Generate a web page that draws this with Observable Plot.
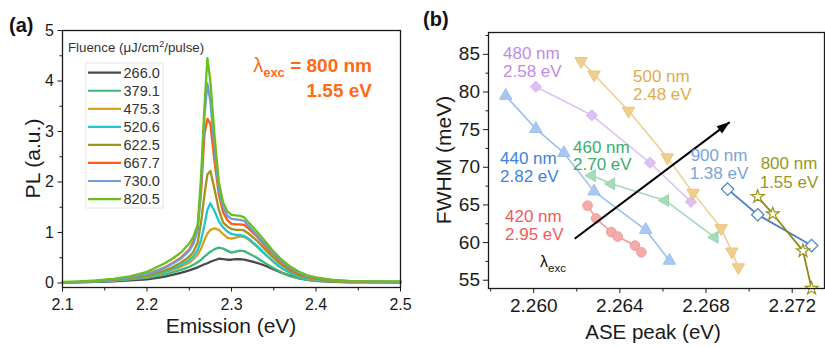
<!DOCTYPE html>
<html><head><meta charset="utf-8">
<script src="https://cdn.jsdelivr.net/npm/d3@7"></script>
<script src="https://cdn.jsdelivr.net/npm/@observablehq/plot@0.6"></script>
<style>
body{margin:0;background:#fff;font-family:"Liberation Sans",Arial,sans-serif}
#wrap{position:relative;width:825px;height:347px;overflow:hidden;background:#fff}
#pa{position:absolute;left:0;top:0}
#pb{position:absolute;left:415px;top:0}
#ov{position:absolute;left:0;top:0;pointer-events:none}
</style></head><body>
<div id="wrap"><div id="pa"></div><div id="pb"></div><svg id="ov" width="825" height="347"></svg></div>
<script>
// ---------- Panel (a) data ----------
const emission = [2.10,2.12,2.14,2.16,2.18,2.20,2.22,2.23,2.24,2.25,2.255,2.26,2.264,2.268,2.2715,2.275,2.28,2.285,2.29,2.295,2.30,2.305,2.31,2.315,2.32,2.33,2.34,2.35,2.36,2.37,2.38,2.39,2.40,2.42,2.44,2.46,2.48,2.50];
const pl266 = [0.01,0.01,0.02,0.03,0.05,0.07,0.12,0.16,0.2,0.25,0.28,0.31,0.34,0.37,0.39,0.42,0.45,0.48,0.47,0.46,0.46,0.47,0.47,0.46,0.44,0.4,0.34,0.27,0.2,0.14,0.09,0.06,0.04,0.02,0.01,0.01,0.01,0.01];
const pl379 = [0.01,0.02,0.03,0.04,0.07,0.1,0.16,0.21,0.26,0.32,0.36,0.41,0.46,0.52,0.57,0.62,0.67,0.7,0.68,0.64,0.6,0.62,0.64,0.63,0.59,0.5,0.39,0.29,0.2,0.13,0.09,0.06,0.04,0.03,0.02,0.02,0.01,0.01];
const pl475 = [0.01,0.02,0.03,0.05,0.08,0.12,0.2,0.26,0.32,0.4,0.47,0.56,0.68,0.85,0.98,1.05,1.08,1.05,0.97,0.9,0.88,0.9,0.92,0.91,0.86,0.72,0.56,0.41,0.28,0.19,0.13,0.08,0.06,0.03,0.02,0.02,0.01,0.01];
const pl520 = [0.01,0.02,0.03,0.05,0.08,0.13,0.21,0.28,0.35,0.45,0.53,0.65,0.85,1.15,1.45,1.58,1.42,1.22,1.1,1.02,0.97,0.95,0.95,0.93,0.88,0.74,0.57,0.42,0.29,0.2,0.13,0.09,0.07,0.04,0.03,0.02,0.02,0.01];
const pl622 = [0.01,0.02,0.04,0.06,0.09,0.14,0.24,0.31,0.4,0.52,0.62,0.8,1.2,1.75,2.15,2.22,1.85,1.45,1.2,1.12,1.07,1.05,1.05,1.04,0.98,0.84,0.66,0.49,0.35,0.24,0.16,0.11,0.08,0.04,0.03,0.02,0.02,0.01];
const pl667 = [0.01,0.02,0.04,0.07,0.11,0.17,0.3,0.39,0.5,0.66,0.82,1.1,1.8,2.95,3.25,3.15,2.4,1.75,1.4,1.25,1.17,1.16,1.16,1.15,1.08,0.92,0.73,0.55,0.39,0.27,0.18,0.12,0.09,0.05,0.03,0.02,0.02,0.02];
const pl730 = [0.01,0.02,0.04,0.07,0.11,0.17,0.29,0.38,0.48,0.64,0.78,1.05,1.9,3.3,3.95,3.6,2.65,1.85,1.5,1.33,1.27,1.26,1.25,1.23,1.13,0.95,0.76,0.57,0.41,0.29,0.2,0.13,0.1,0.05,0.03,0.03,0.02,0.02];
const pl820 = [0.02,0.03,0.05,0.08,0.13,0.22,0.38,0.48,0.6,0.78,0.92,1.15,2.1,3.5,4.45,4.0,2.9,2.0,1.6,1.42,1.35,1.34,1.33,1.3,1.2,1.02,0.82,0.62,0.45,0.32,0.22,0.15,0.11,0.06,0.04,0.03,0.03,0.03];
const fluence = ["266.0","379.1","475.3","520.6","622.5","667.7","730.0","820.5"];
const fluenceColors = ["#4a4a4a","#3fb67a","#d9a11c","#1fc6cf","#a0951c","#ff5b12","#709bd8","#68c01c"];
const xTicksA = [2.1,2.2,2.3,2.4,2.5];
const yTicksA = [0,1,2,3,4,5];
const xMinorA = [2.15,2.25,2.35,2.45];
const yMinorA = [0.5,1.5,2.5,3.5,4.5];

// ---------- Panel (b) data ----------
const ase420 = [2.2625,2.2629,2.2636,2.2639,2.2647,2.2650];
const fwhm420 = [64.9,63.2,61.4,60.8,59.6,58.7];
const ase440 = [2.2587,2.2601,2.2614,2.2628,2.2652,2.2663];
const fwhm440 = [79.5,75.1,71.9,66.8,61.7,57.6];
const ase460 = [2.2627,2.2636,2.2661,2.2684];
const fwhm460 = [68.9,67.8,65.6,60.7];
const ase480 = [2.2601,2.2627,2.2654,2.2673];
const fwhm480 = [80.7,76.9,70.6,65.4];
const ase500 = [2.2622,2.2628,2.2644,2.2662,2.2674,2.2687,2.2692,2.2695];
const fwhm500 = [84.1,82.3,77.5,71.3,66.6,61.9,58.8,56.7];
const ase900 = [2.2690,2.2704,2.2729];
const fwhm900 = [67.1,63.7,59.6];
const ase800 = [2.2704,2.2711,2.2725,2.2729];
const fwhm800 = [66.1,63.8,58.9,53.9];
const xTicksB = [2.260,2.264,2.268,2.272];
const yTicksB = [55,60,65,70,75,80,85];
const xMinorB = [2.258,2.262,2.266,2.270];
const yMinorB = [57.5,62.5,67.5,72.5,77.5,82.5,87.5];
const arrowAse = [2.2619,2.2691];
const arrowFwhm = [60.5,76.0];
const labelsB = [["480 nm","2.58 eV"],["500 nm","2.48 eV"],["440 nm","2.82 eV"],["460 nm","2.70 eV"],["420 nm","2.95 eV"],["900 nm","1.38 eV"],["800 nm","1.55 eV"]];

// ---------- helpers ----------
const FONT = '"Liberation Sans", Arial, sans-serif';
function tickSym(dx, dy){ return {draw(ctx){ ctx.moveTo(0,0); ctx.lineTo(dx,dy); }}; }
function triSym(angleDeg){
  return {draw(ctx, size){
    const s = Math.sqrt(size/(Math.sqrt(3)*3)), k = Math.sqrt(3)*s;
    const pts = [[0,-2*s],[-k,s],[k,s]], a = angleDeg*Math.PI/180;
    pts.forEach(([px,py],i)=>{const rx=px*Math.cos(a)-py*Math.sin(a), ry=px*Math.sin(a)+py*Math.cos(a); i?ctx.lineTo(rx,ry):ctx.moveTo(rx,ry);});
    ctx.closePath();
  }};
}
function headSym(theta, L, W){
  return {draw(ctx){
    const pts=[[0,0],[-L,W],[-L,-W]];
    pts.forEach(([px,py],i)=>{const rx=px*Math.cos(theta)-py*Math.sin(theta), ry=px*Math.sin(theta)+py*Math.cos(theta); i?ctx.lineTo(rx,ry):ctx.moveTo(rx,ry);});
    ctx.closePath();
  }};
}

// ---------- Panel (a) plot ----------
const plSeries = [pl266,pl379,pl475,pl520,pl622,pl667,pl730,pl820];
const rowsA = [];
fluence.forEach((f,k)=>emission.forEach((e,i)=>rowsA.push({e, pl: plSeries[k][i], f})));
const xDomA = [2.1,2.5], yDomA = [-0.09,5];
const plotA = Plot.plot({
  width: 415, height: 347,
  marginLeft: 62, marginRight: 15, marginTop: 30, marginBottom: 60,
  style: {fontFamily: FONT, fontSize: "16px", background: "transparent", color: "#1a1a1a"},
  x: {domain: xDomA, ticks: xTicksA, tickFormat: d3.format(".1f"), tickSize: 4.5, tickPadding: 6.5, label: null},
  y: {domain: yDomA, ticks: yTicksA, tickFormat: d3.format("d"), tickSize: 4.5, tickPadding: 4, label: null},
  color: {domain: fluence, range: fluenceColors},
  marks: [
    Plot.line(rowsA, {x: "e", y: "pl", z: "f", stroke: "f", strokeWidth: 2.3}),
    Plot.frame({stroke: "#1a1a1a", strokeWidth: 1.3}),
    Plot.dot(xMinorA, {x: d=>d, y: ()=>yDomA[0], symbol: tickSym(0,3), stroke: "#1a1a1a", fill: "none", strokeWidth: 1}),
    Plot.dot(yMinorA, {x: ()=>xDomA[0], y: d=>d, symbol: tickSym(-3,0), stroke: "#1a1a1a", fill: "none", strokeWidth: 1})
  ]
});
document.getElementById("pa").appendChild(plotA);

// ---------- Panel (b) plot ----------
const WB = 410, HB = 347, mLB = 73, mRB = 1, mTB = 32, mBB = 59;
const xDomB = [2.2579,2.2735], yDomB = [53.9,87.9];
const fw = WB-mLB-mRB, fh = HB-mTB-mBB;
const theta = Math.atan2(-(arrowFwhm[1]-arrowFwhm[0])/(yDomB[1]-yDomB[0])*fh, (arrowAse[1]-arrowAse[0])/(xDomB[1]-xDomB[0])*fw);
const rows = (xs, ys) => xs.map((x,i)=>({x, y: ys[i]}));
const faded = [
  {d: rows(ase420,fwhm420), line:"#f39a9a", fill:"#f6abab", stroke:"#f19a9a", symbol:"circle", r:4.8},
  {d: rows(ase440,fwhm440), line:"#9cbff0", fill:"#a9c8f1", stroke:"#9cbff0", symbol:triSym(0), r:4.6},
  {d: rows(ase460,fwhm460), line:"#a2d9b6", fill:"#a6dab9", stroke:"#98d4ae", symbol:triSym(-90), r:4.4},
  {d: rows(ase480,fwhm480), line:"#dcc3f3", fill:"#dcc0f3", stroke:"#d4b4ee", symbol:"diamond2", r:5.0},
  {d: rows(ase500,fwhm500), line:"#efd094", fill:"#f0cf8c", stroke:"#eac27a", symbol:triSym(180), r:4.6}
];
const marksB = [];
faded.forEach(s=>{
  marksB.push(Plot.line(s.d, {x:"x", y:"y", stroke: s.line, strokeWidth: 1.6}));
  marksB.push(Plot.dot(s.d, {x:"x", y:"y", symbol: s.symbol, r: s.r, fill: s.fill, stroke: s.stroke, strokeWidth: 1}));
});
const arrowRow = [{x1: arrowAse[0], y1: arrowFwhm[0], x2: arrowAse[1], y2: arrowFwhm[1]}];
marksB.push(Plot.link(arrowRow, {x1:"x1", y1:"y1", x2:"x2", y2:"y2", stroke:"#000", strokeWidth: 2}));
marksB.push(Plot.dot(arrowRow, {x:"x2", y:"y2", symbol: headSym(theta, 13, 4.6), fill:"#000", stroke:"none", r: 3}));
const d900 = rows(ase900,fwhm900), d800 = rows(ase800,fwhm800);
marksB.push(Plot.line(d900, {x:"x", y:"y", stroke:"#4a80c6", strokeWidth: 1.8}));
marksB.push(Plot.line(d800, {x:"x", y:"y", stroke:"#8e8b12", strokeWidth: 1.8}));
marksB.push(Plot.dot(d900, {x:"x", y:"y", symbol:"diamond2", r: 5.6, fill:"#fff", stroke:"#4a80c6", strokeWidth: 1.2}));
marksB.push(Plot.dot(d800, {x:"x", y:"y", symbol:"star", r: 4.1, fill:"#fff", stroke:"#9a9618", strokeWidth: 1.2}));
marksB.push(Plot.frame({stroke:"#1a1a1a", strokeWidth: 1.3}));
marksB.push(Plot.dot(xMinorB, {x: d=>d, y: ()=>yDomB[0], symbol: tickSym(0,3), stroke:"#1a1a1a", fill:"none", strokeWidth: 1}));
marksB.push(Plot.dot(yMinorB, {x: ()=>xDomB[0], y: d=>d, symbol: tickSym(-3,0), stroke:"#1a1a1a", fill:"none", strokeWidth: 1}));
const plotB = Plot.plot({
  width: WB, height: HB,
  marginLeft: mLB, marginRight: mRB, marginTop: mTB, marginBottom: mBB,
  style: {fontFamily: FONT, fontSize: "19px", background: "transparent", color: "#1a1a1a"},
  x: {domain: xDomB, ticks: xTicksB, tickFormat: d3.format(".3f"), tickSize: 5, tickPadding: 5, label: null},
  y: {domain: yDomB, ticks: yTicksB, tickFormat: d3.format("d"), tickSize: 5, tickPadding: 3.5, label: null},
  marks: marksB
});
document.getElementById("pb").appendChild(plotB);

// ---------- text overlay ----------
const ov = d3.select("#ov").style("font-family", FONT);
function txt(x, y, s, o={}) {
  const t = ov.append("text").attr("x", x).attr("y", y).text(s)
    .attr("font-size", o.size || 16).attr("fill", o.fill || "#1a1a1a")
    .attr("text-anchor", o.anchor || "start");
  if (o.bold) t.attr("font-weight", "bold");
  if (o.rotate) t.attr("x", 0).attr("y", 0).attr("transform", `translate(${x},${y}) rotate(${o.rotate})`);
  return t;
}
// panel letters
txt(9, 32, "(a)", {size: 20, bold: true, fill: "#111"});
txt(423, 26, "(b)", {size: 20, bold: true, fill: "#111"});
// axis titles
txt(231, 333, "Emission (eV)", {size: 21, anchor: "middle"});
txt(39.5, 158.5, "PL (a.u.)", {size: 21, anchor: "middle", rotate: -90});
txt(653, 339, "ASE peak (eV)", {size: 20.5, anchor: "middle"});
txt(451, 160, "FWHM (meV)", {size: 21, anchor: "middle", rotate: -90});
// legend (panel a)
const lt = txt(68, 52, "Fluence (\u03bcJ/cm", {size: 13.3, fill: "#333"});
lt.append("tspan").attr("font-size", 9).attr("dy", -5).text("2");
lt.append("tspan").attr("dy", 5).text("/pulse)");
ov.append("rect").attr("x", 86).attr("y", 63).attr("width", 77).attr("height", 145)
  .attr("fill", "#fff").attr("stroke", "#e4e4e4").attr("stroke-width", 1);
fluence.forEach((f,i)=>{
  const yy = 72.7 + 18.05*i;
  ov.append("line").attr("x1", 88).attr("x2", 121).attr("y1", yy).attr("y2", yy)
    .attr("stroke", fluenceColors[i]).attr("stroke-width", 2.2);
  txt(123.5, yy + 5.2, f, {size: 14.5, fill: "#333"});
});
// lambda annotation (panel a)
const la = ov.append("text").attr("x", 372).attr("y", 71.7).attr("text-anchor", "end")
  .attr("fill", "#ff6a14").attr("font-size", 19).attr("font-weight", "bold");
la.append("tspan").attr("font-weight", "normal").attr("font-size", 20).text("\u03bb");
la.append("tspan").attr("font-size", 13).attr("dy", 5).text("exc");
la.append("tspan").attr("dy", -5).text(" = 800 nm");
txt(372, 97.3, "1.55 eV", {size: 19, bold: true, fill: "#ff6a14", anchor: "end"});
// lambda (panel b)
const lb = ov.append("text").attr("x", 540).attr("y", 267).attr("fill", "#111").attr("font-size", 16);
lb.append("tspan").text("\u03bb");
lb.append("tspan").attr("font-size", 11.5).attr("dy", 4.5).text("exc");
// series labels (panel b)
const labelLayout = [
  {x: 503, y: 59.3, sp: 17.6, fill: "#c08be6", anchor: "start"},
  {x: 633, y: 82, sp: 18, fill: "#e2ab48", anchor: "start"},
  {x: 500, y: 164.3, sp: 17.6, fill: "#3d82e0", anchor: "start"},
  {x: 573, y: 152.6, sp: 17.6, fill: "#3cae6b", anchor: "start"},
  {x: 505, y: 222, sp: 17.6, fill: "#f25b5b", anchor: "start"},
  {x: 719, y: 161, sp: 17.7, fill: "#7aa3dc", anchor: "middle"},
  {x: 789, y: 169.3, sp: 18.4, fill: "#99971c", anchor: "middle"}
];
labelsB.forEach((lines, k)=>{
  const L = labelLayout[k];
  lines.forEach((s,j)=> txt(L.x, L.y + j*L.sp, s, {size: 17, fill: L.fill, anchor: L.anchor}));
});
</script>
</body></html>
